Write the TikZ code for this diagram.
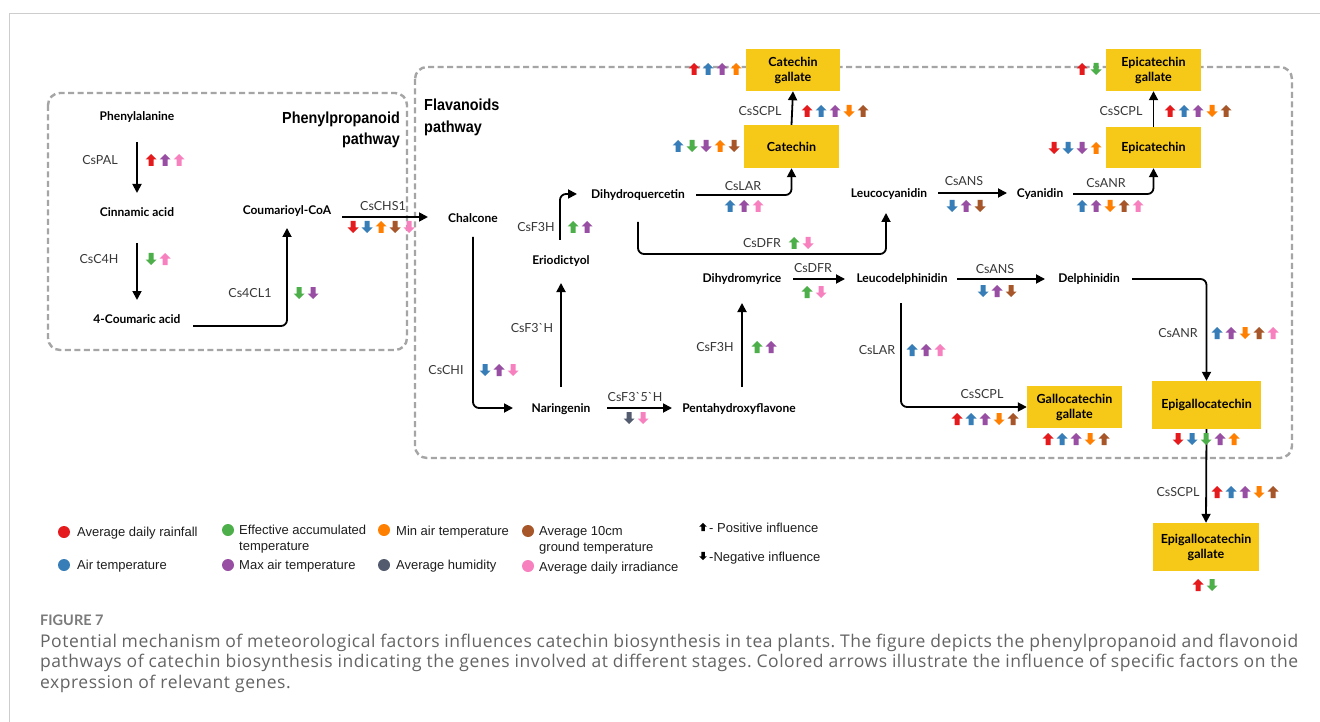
\documentclass[tikz,border=0pt]{standalone}
\usepackage{fontspec}
\setmainfont{Lato}
\newfontfamily\arialf{Liberation Sans}
\newfontfamily\capf[LetterSpace=3]{Open Sans}
\usetikzlibrary{arrows.meta,calc}
\definecolor{cR}{RGB}{228,26,28}
\definecolor{cB}{RGB}{55,126,184}
\definecolor{cG}{RGB}{77,175,74}
\definecolor{cP}{RGB}{152,78,163}
\definecolor{cO}{RGB}{255,127,0}
\definecolor{cN}{RGB}{166,86,40}
\definecolor{cH}{RGB}{82,92,110}
\definecolor{cK}{RGB}{247,129,191}
\definecolor{goldbox}{RGB}{246,200,24}
\definecolor{dashgray}{RGB}{165,165,165}
\definecolor{framegray}{RGB}{205,205,205}
\definecolor{genecol}{RGB}{55,55,55}
\definecolor{capgray}{RGB}{100,100,100}
\definecolor{leggray}{RGB}{30,30,30}
\tikzset{
  arrU/.pic={\fill (0,-6) -- (5.5,-0.5) -- (2.5,-0.5) -- (2.5,6) -- (-2.5,6) -- (-2.5,-0.5) -- (-5.5,-0.5) -- cycle;},
  arrD/.pic={\fill (0,6) -- (5.5,0.5) -- (2.5,0.5) -- (2.5,-6) -- (-2.5,-6) -- (-2.5,0.5) -- (-5.5,0.5) -- cycle;},
  arr/.style={line width=1.8pt, -{Triangle[length=9pt,width=9pt]}, rounded corners=6pt},
  dbox/.style={dashgray, line width=2.4pt, dash pattern=on 6pt off 3.5pt, rounded corners=12pt},
  cmp/.style={font=\fontsize{12}{14}\selectfont\bfseries, inner sep=0pt},
  gene/.style={font=\fontsize{12.5}{14}\selectfont, text=genecol, inner sep=0pt},
  gbox/.style={fill=goldbox, font=\fontsize{12.5}{15}\selectfont\bfseries, align=center, inner sep=0pt},
  ttl/.style={font=\arialf\fontsize{16}{21.5}\selectfont\bfseries, inner sep=0pt},
  legtxt/.style={font=\arialf\fontsize{13}{16}\selectfont, text=leggray, inner sep=0pt},
  captxt/.style={font=\capf\frenchspacing\fontsize{17.5}{20}\selectfont, text=capgray, inner sep=0pt},
}
\newcommand\arrset[3]{\foreach \dd/\cc [count=\ii from 0] in {#3} {\pic[fill=\cc] at ({#1+14*\ii},#2) {arr\dd};}}
\begin{document}
\begin{tikzpicture}[x=1pt,y=-1pt]
\useasboundingbox (0,0) rectangle (1320,722);
\fill[white] (0,0) rectangle (1320,722);
\draw[framegray, line width=1pt] (9,722) -- (9,14) -- (1320,14);
% pathway frames
\draw[dbox] (48,93) rectangle (407,350);
\draw[dbox] (415,67) rectangle (1292,458);
\node[ttl, anchor=east, align=right] (pp) at (400,130) {\scalebox{0.9}[1]{Phenylpropanoid}\\\scalebox{0.9}[1]{pathway}};
\node[ttl, anchor=west, align=left] (fp) at (424,117.5) {\scalebox{0.9}[1]{Flavanoids}\\\scalebox{0.9}[1]{pathway}};
% compounds
\node[cmp] (phe) at (137,117) {Phenylalanine};
\node[cmp] (cin) at (137,212) {Cinnamic acid};
\node[cmp] (cou) at (137,319) {4-Coumaric acid};
\node[cmp] (coa) at (287,211) {Coumarioyl-CoA};
\node[cmp] (cha) at (473,218) {Chalcone};
\node[cmp] (nar) at (561,409) {Naringenin};
\node[cmp] (eri) at (561,261) {Eriodictyol};
\node[cmp] (dhq) at (638,195) {Dihydroquercetin};
\node[cmp] (pen) at (739,409) {Pentahydroxyflavone};
\node[cmp] (dhm) at (742,279) {Dihydromyrice};
\node[cmp] (lcy) at (889,194) {Leucocyanidin};
\node[cmp] (cya) at (1040,194) {Cyanidin};
\node[cmp] (ldp) at (902,279) {Leucodelphinidin};
\node[cmp] (del) at (1089,279) {Delphinidin};
% boxes
\node[gbox, minimum width=95pt, minimum height=43pt] (cat) at (791.5,146.5) {Catechin};
\node[gbox, minimum width=94pt, minimum height=42pt] (catg) at (793,70) {Catechin\\gallate};
\node[gbox, minimum width=95pt, minimum height=41pt] (epi) at (1153.5,147.5) {Epicatechin};
\node[gbox, minimum width=95pt, minimum height=42pt] (epig) at (1153.5,70) {Epicatechin\\gallate};
\node[gbox, minimum width=109pt, minimum height=48pt] (egc) at (1206.5,405) {Epigallocatechin};
\node[gbox, minimum width=95pt, minimum height=42pt] (gcg) at (1074.5,407) {Gallocatechin\\gallate};
\node[gbox, minimum width=106pt, minimum height=48pt] (egcg) at (1206,547) {Epigallocatechin\\gallate};
% connectors
\draw[arr] ($(phe)+(0,25)$) -- ($(cin)+(0,-19)$);
\draw[arr] ($(cin)+(0,31)$) -- ($(cou)+(0,-19)$);
\draw[arr] ($(cou)+(56,7)$) -| ($(coa)+(0,17)$);
\draw[arr] ($(coa)+(55,6)$) -- ($(cha)+(-45,-1)$);
\draw[arr] ($(cha)+(0,19)$) |- ($(nar)+(-48,-1)$);
\draw[arr] ($(nar)+(0,-22)$) -- ($(eri)+(0,22)$);
\draw[arr] ($(eri)+(-1,-21)$) |- ($(dhq)+(-61,-1)$);
\draw[arr] ($(dhq)+(58,0)$) -| (cat.south);
\draw[arr] (cat.north) -- (catg.south);
\draw[arr] ($(dhq)+(0,27)$) -- ++(0,32) -| ($(lcy)+(-3,19)$);
\draw[arr] ($(lcy)+(49,-1)$) -- ($(cya)+(-33,-1)$);
\draw[arr] ($(cya)+(33,0)$) -| (epi.south);
\draw[arr] (epi.north) -- (epig.south);
\draw[arr] ($(nar)+(46,-1)$) -- ($(pen)+(-67,-1)$);
\draw[arr] ($(pen)+(3,-22)$) -- ($(dhm)+(0,24)$);
\draw[arr] ($(dhm)+(51,0)$) -- ($(ldp)+(-57,0)$);
\draw[arr] ($(ldp)+(55,0)$) -- ($(del)+(-44,0)$);
\draw[arr] ($(del)+(43,0)$) -| (egc.north);
\draw[arr] ($(ldp)+(-1,24)$) |- (gcg.west);
\draw[arr] (egc.south) -- (egcg.north);
% gene labels
\node[gene] (g1) at (100,160) {CsPAL};
\node[gene] (g2) at (99,259) {CsC4H};
\node[gene] (g3) at (250,293) {Cs4CL1};
\node[gene] (g4) at (383,206) {CsCHS1};
\node[gene] (g5) at (446,370) {CsCHI};
\node[gene] (g6) at (532,328) {CsF3\textasciigrave H};
\node[gene] (g7) at (536,227) {CsF3H};
\node[gene] (g8) at (743,186) {CsLAR};
\node[gene] (g9) at (760,111) {CsSCPL};
\node[gene] (g10) at (762,243) {CsDFR};
\node[gene] (g11) at (964,181) {CsANS};
\node[gene] (g12) at (1106,183) {CsANR};
\node[gene] (g13) at (1121,111) {CsSCPL};
\node[gene] (g14) at (715,347) {CsF3H};
\node[gene] (g15) at (635,397) {CsF3\textasciigrave 5\textasciigrave H};
\node[gene] (g16) at (813,268) {CsDFR};
\node[gene] (g17) at (995,269) {CsANS};
\node[gene] (g18) at (1178,333) {CsANR};
\node[gene] (g19) at (877,350) {CsLAR};
\node[gene] (g20) at (982,394) {CsSCPL};
\node[gene] (g21) at (1178,492) {CsSCPL};
% influence arrows
\arrset{151}{160}{U/cR,U/cP,U/cK}
\arrset{151}{259}{D/cG,U/cK}
\arrset{299}{293}{D/cG,D/cP}
\arrset{353}{227}{D/cR,D/cB,U/cO,D/cN,D/cK}
\arrset{485}{370}{D/cB,U/cP,D/cK}
\arrset{573}{227}{U/cG,U/cP}
\arrset{730}{206}{U/cB,U/cP,U/cK}
\arrset{678}{146}{U/cB,D/cG,D/cP,U/cO,D/cN}
\arrset{694}{69}{U/cR,U/cB,U/cP,U/cO}
\arrset{807}{111}{U/cR,U/cB,U/cP,D/cO,U/cN}
\arrset{794}{243}{U/cG,D/cK}
\arrset{952}{206}{D/cB,U/cP,D/cN}
\arrset{1082}{206}{U/cB,U/cP,D/cO,U/cN,U/cK}
\arrset{1054}{148}{D/cR,D/cB,D/cP,U/cO}
\arrset{1082}{69}{U/cR,D/cG}
\arrset{1170}{111}{U/cR,U/cB,U/cP,D/cO,U/cN}
\arrset{757}{347}{U/cG,U/cP}
\arrset{629}{418}{D/cH,D/cK}
\arrset{807}{292}{U/cG,D/cK}
\arrset{983}{291}{D/cB,U/cP,D/cN}
\arrset{1217}{333}{U/cB,U/cP,D/cO,U/cN,U/cK}
\arrset{912}{350}{U/cB,U/cP,U/cK}
\arrset{957}{419}{U/cR,U/cB,U/cP,D/cO,U/cN}
\arrset{1048}{439}{U/cR,U/cB,U/cP,D/cO,U/cN}
\arrset{1178}{439}{D/cR,D/cB,D/cG,U/cP,U/cO}
\arrset{1217}{492}{U/cR,U/cB,U/cP,D/cO,U/cN}
\arrset{1198}{585}{U/cR,D/cG}
% legend
\fill[cR] (64,532) circle (6);
\fill[cB] (64,565) circle (6);
\fill[cG] (228,530) circle (6);
\fill[cP] (228,565) circle (6);
\fill[cO] (384,530) circle (6);
\fill[cH] (384,565) circle (6);
\fill[cN] (528,531) circle (6);
\fill[cK] (528,566) circle (6);
\node[legtxt, anchor=base west] (l1) at (77,536.5) {Average daily rainfall};
\node[legtxt, anchor=base west] (l2) at (77,569.5) {Air temperature};
\node[legtxt, anchor=north west, align=left] (l3) at (239,525) {Effective accumulated\\temperature};
\node[legtxt, anchor=base west] (l4) at (239,569.5) {Max air temperature};
\node[legtxt, anchor=base west] (l5) at (396,535) {Min air temperature};
\node[legtxt, anchor=base west] (l6) at (396,569.5) {Average humidity};
\node[legtxt, anchor=north west, align=left] (l7) at (539,526) {Average 10cm\\ground temperature};
\node[legtxt, anchor=base west] (l8) at (539,571) {Average daily irradiance};
\pic[fill=black, scale=0.7] at (703,527) {arrU};
\pic[fill=black, scale=0.7] at (703,556) {arrD};
\node[legtxt, anchor=base west] (l9) at (709,532.5) {- Positive influence};
\node[legtxt, anchor=base west] (l10) at (709,561.5) {-Negative influence};
% caption
\node[anchor=base west, inner sep=0pt, font=\fontsize{14.5}{18}\selectfont\bfseries, text=capgray!85] (fig) at (40,625) {FIGURE 7};
\node[captxt, anchor=base west] (c1) at (40,647) {\makebox[1258pt][s]{Potential mechanism of meteorological factors influences catechin biosynthesis in tea plants. The figure depicts the phenylpropanoid and flavonoid}};
\node[captxt, anchor=base west] (c2) at (40,667.5) {\makebox[1258pt][s]{pathways of catechin biosynthesis indicating the genes involved at different stages. Colored arrows illustrate the influence of specific factors on the}};
\node[captxt, anchor=base west] (c3) at (40,688) {expression of relevant genes.};
\end{tikzpicture}
\end{document}
